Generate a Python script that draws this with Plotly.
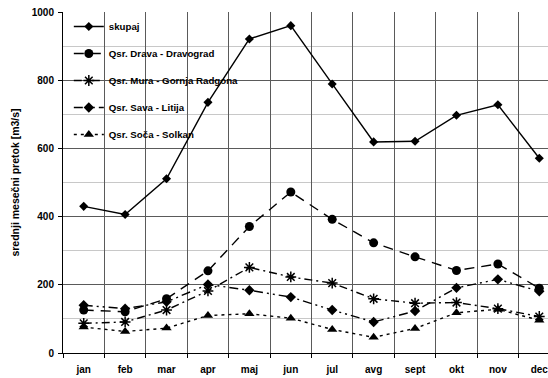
import plotly.graph_objects as go

months = ["jan", "feb", "mar", "apr", "maj", "jun", "jul", "avg", "sept", "okt", "nov", "dec"]

skupaj = [430, 406, 511, 735, 921, 960, 789, 619, 621, 697, 728, 571]
drava = [126, 121, 159, 241, 371, 472, 392, 323, 282, 242, 261, 190]
mura = [87, 91, 126, 182, 251, 223, 205, 159, 146, 148, 130, 107]
sava = [140, 130, 150, 201, 184, 164, 126, 91, 123, 191, 216, 181]
soca = [76, 63, 73, 110, 115, 102, 69, 46, 72, 118, 128, 96]

series = [
    ("skupaj", skupaj, "solid", "diamond", 7),
    ("Qsr. Drava - Dravograd", drava, "10px,7px", "circle", 9),
    ("Qsr. Mura - Gornja Radgona", mura, "8px,4px,2px,4px", "asterisk-open", 9),
    ("Qsr. Sava - Litija", sava, "9px,4px,2px,4px,2px,4px", "diamond", 8),
    ("Qsr. Soča - Solkan", soca, "3px,4px", "triangle-up", 9),
]

fig = go.Figure()
for i, (name, vals, dash, sym, size) in enumerate(series):
    fig.add_trace(go.Scatter(
        x=months, y=vals, name=name, mode="lines+markers",
        legendgroup=str(i),
        line=dict(color="black", width=1.4, dash=dash),
        marker=dict(symbol=sym, size=size, color="black",
                    line=dict(color="black", width=1.5 if sym == "asterisk-open" else 0)),
    ))

# white panel behind the legend, above the grid but below the lines
fig.add_shape(type="rect", xref="paper", yref="y", x0=0.002, x1=0.468, y0=592, y1=1003,
              fillcolor="white", line=dict(width=0), layer="between")

fig.update_layout(
    template="none",
    width=548, height=378,
    margin=dict(l=63, r=0, t=12, b=25),
    paper_bgcolor="white", plot_bgcolor="white",
    font=dict(family="Liberation Sans, Arial, sans-serif", color="#000000"),
    showlegend=True,
    legend=dict(x=0.012, y=1.0, xanchor="left", yanchor="top",
                bgcolor="rgba(0,0,0,0)", borderwidth=0,
                font=dict(size=9.7, family="Liberation Sans, Arial, sans-serif", weight="bold", color="#000000"),
                tracegroupgap=8, itemwidth=30),
)

fig.update_xaxes(
    type="category", range=[-0.5, 11.21], tickson="boundaries",
    showline=True, linecolor="black", linewidth=1,
    ticks="outside", ticklen=4, tickcolor="black",
    showgrid=True, gridcolor="#5a5a5a", gridwidth=1,
    tickfont=dict(size=10, weight="bold", color="#000000"),
    ticklabelstandoff=7,
    zeroline=False,
)
fig.update_yaxes(
    range=[0, 1000], dtick=200,
    showline=True, linecolor="black", linewidth=1,
    ticks="outside", ticklen=4, tickcolor="black",
    showgrid=True, gridcolor="#5a5a5a", gridwidth=1,
    minor=dict(dtick=100, showgrid=True, gridcolor="#c8c8c8", gridwidth=1),
    tickfont=dict(size=10, weight="bold", color="#000000"),
    ticklabelstandoff=2,
    zeroline=False,
    title=dict(text="srednji mesečni pretok [m3/s]",
               font=dict(size=10.5, weight="bold", color="#000000"), standoff=10),
)

fig.write_html("out.html")
